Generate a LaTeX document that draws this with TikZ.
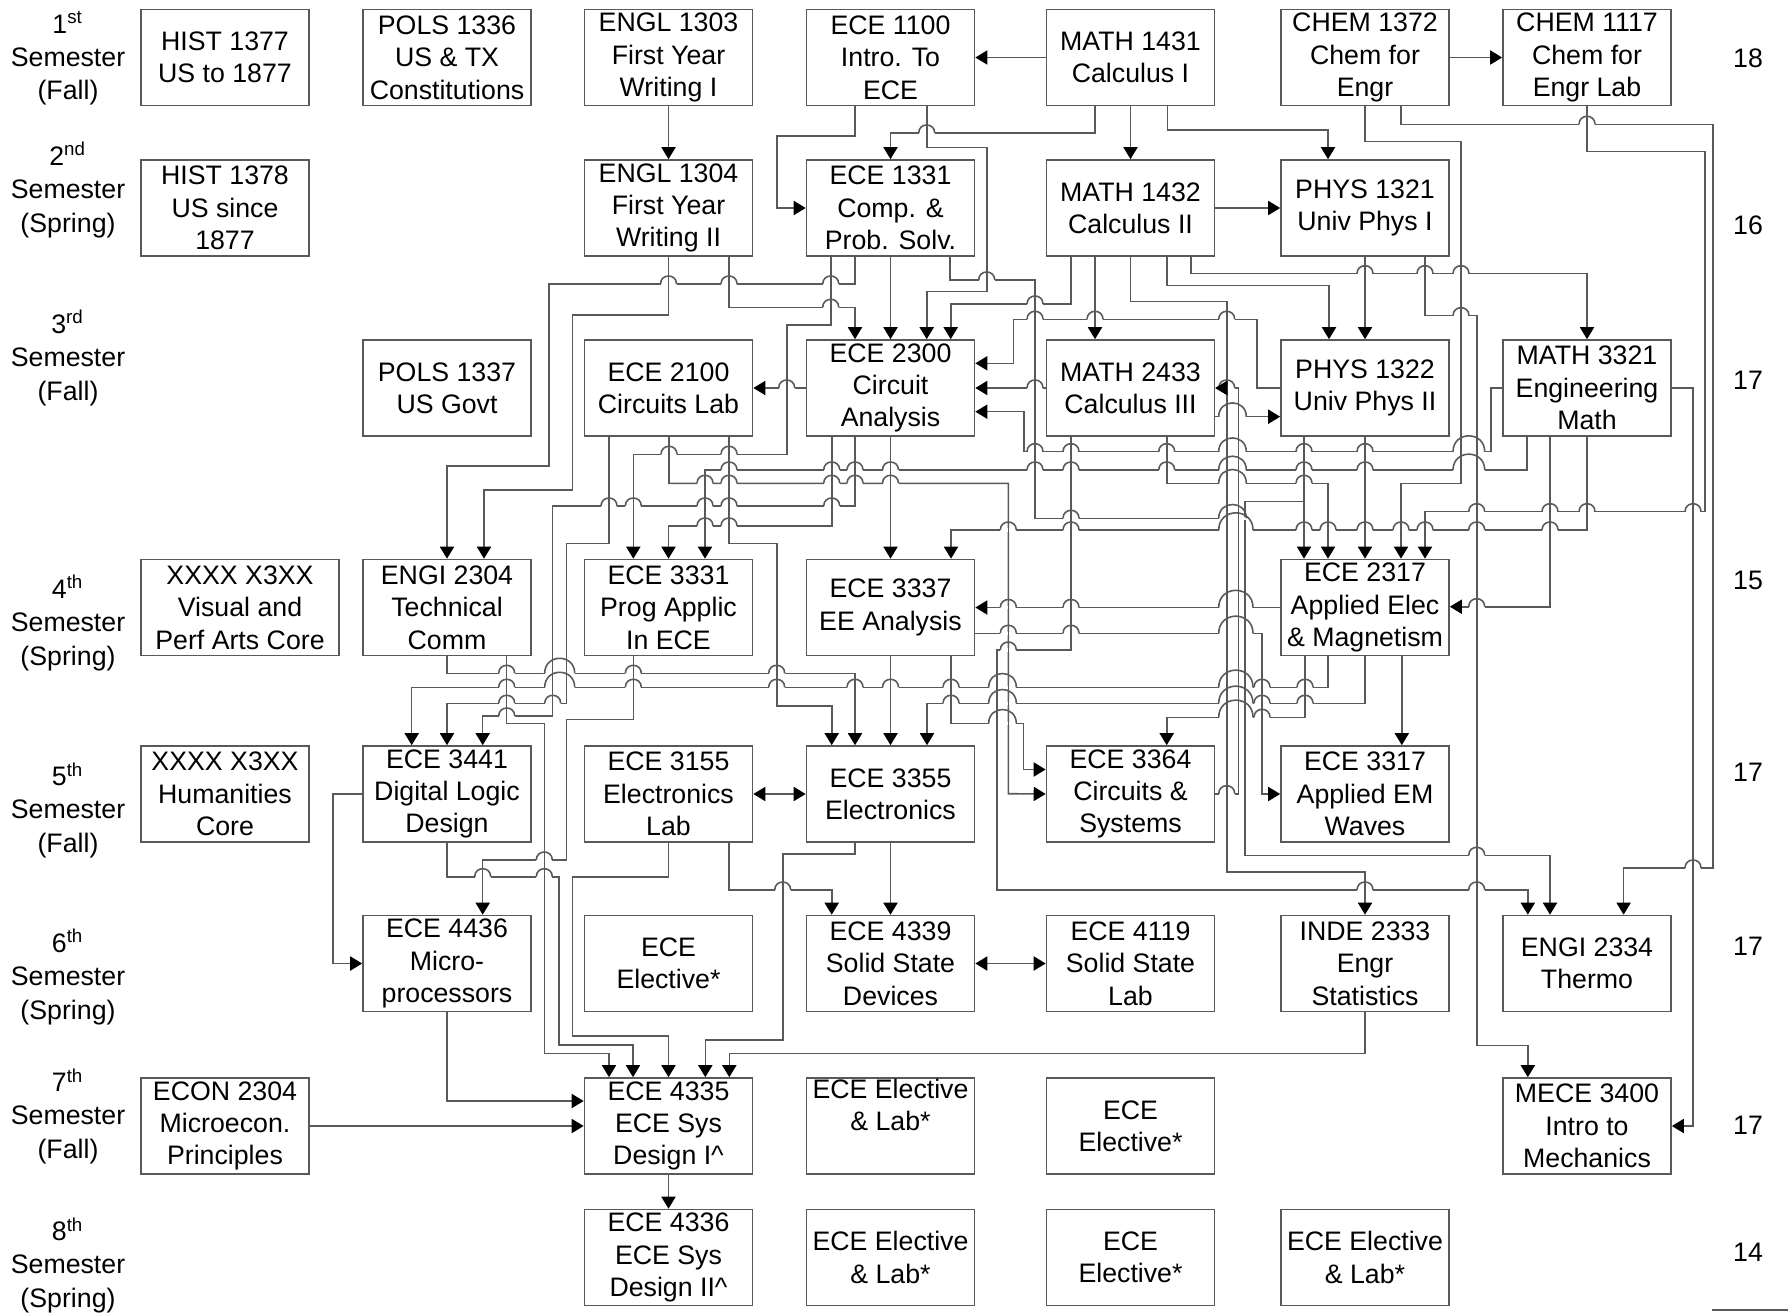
\documentclass[tikz,border=0pt]{standalone}
\usepackage{fontspec}
\setmainfont{Liberation Sans}
\usetikzlibrary{arrows.meta}

\tikzset{
  course/.style={draw=black!65, line width=0.45pt, minimum width=1.68cm, minimum height=0.96cm,
    align=center, inner sep=0pt, font=\fontsize{7.6}{9.2}\selectfont},
  sem/.style={align=center, font=\fontsize{7.6}{9.4}\selectfont},
  hrs/.style={font=\fontsize{7.6}{9.2}\selectfont},
  link/.style={draw=black!65, line width=0.45pt},
  arr/.style={link, -{Triangle[length=3.4pt,width=4pt,color=black]}},
  barr/.style={link, {Triangle[length=3.4pt,width=4pt,color=black]}-{Triangle[length=3.4pt,width=4pt,color=black]}},
}
% append an item to a comma list
\newcommand\addhop[2]{\ifx#1\empty\xdef#1{#2}\else\xdef#1{#1,#2}\fi}

\begin{document}
\begin{tikzpicture}[x=0.01cm,y=-0.01cm]
\useasboundingbox (0,0) rectangle (1788,1312);

% semester labels and hours
\foreach \y/\n/\s/\t in {58/1/st/Fall,190/2/nd/Spring,358/3/rd/Fall,623/4/th/Spring,
                         810/5/th/Fall,977/6/th/Spring,1116/7/th/Fall,1265/8/th/Spring}{
  \node[sem] at (68,\y) {\n\textsuperscript{\s}\\Semester\\(\t)};}
\foreach \y/\h in {58/18,225/16,380/17,580/15,772/17,946/17,1125/17,1252/14}{
  \node[hrs] at (1748,\y) {\h};}

% 1st semester
\node[course] (hist1377) at (225,57.5)    {HIST 1377\\US to 1877};
\node[course] (pols1336) at (447,57.5)    {POLS 1336\\US \& TX\\Constitutions};
\node[course] (engl1303) at (668.5,57.5)  {ENGL 1303\\First Year\\Writing I};
\node[course] (ece1100)  at (890.5,57.5)  {ECE 1100\\Intro. To\\ECE};
\node[course] (math1431) at (1130.5,57.5) {MATH 1431\\Calculus I};
\node[course] (chem1372) at (1365,57.5)   {CHEM 1372\\Chem for\\Engr};
\node[course] (chem1117) at (1587,57.5)   {CHEM 1117\\Chem for\\Engr Lab};
% 2nd semester
\node[course] (hist1378) at (225,208)     {HIST 1378\\US since\\1877};
\node[course] (engl1304) at (668.5,208)   {ENGL 1304\\First Year\\Writing II};
\node[course] (ece1331)  at (890.5,208)   {ECE 1331\\Comp. \&\\Prob. Solv.};
\node[course] (math1432) at (1130.5,208)  {MATH 1432\\Calculus II};
\node[course] (phys1321) at (1365,208)    {PHYS 1321\\Univ Phys I};
% 3rd semester
\node[course] (pols1337) at (447,388)     {POLS 1337\\US Govt};
\node[course] (ece2100)  at (668.5,388)   {ECE 2100\\Circuits Lab};
\node[course] (ece2300)  at (890.5,388)   {ECE 2300\\Circuit\\Analysis};
\node[course] (math2433) at (1130.5,388)  {MATH 2433\\Calculus III};
\node[course] (phys1322) at (1365,388)    {PHYS 1322\\Univ Phys II};
\node[course] (math3321) at (1587,388)    {MATH 3321\\Engineering\\Math};
% 4th semester
\node[course,minimum width=1.98cm] (core1) at (240,607.5) {XXXX X3XX\\Visual and\\Perf Arts Core};
\node[course] (engi2304) at (447,607.5)   {ENGI 2304\\Technical\\Comm};
\node[course] (ece3331)  at (668.5,607.5) {ECE 3331\\Prog Applic\\In ECE};
\node[course] (ece3337)  at (890.5,607.5) {ECE 3337\\EE Analysis};
\node[course] (ece2317)  at (1365,607.5)  {ECE 2317\\Applied Elec\\\& Magnetism};
% 5th semester
\node[course] (core2)    at (225,794)     {XXXX X3XX\\Humanities\\Core};
\node[course] (ece3441)  at (447,794)     {ECE 3441\\Digital Logic\\Design};
\node[course] (ece3155)  at (668.5,794)   {ECE 3155\\Electronics\\Lab};
\node[course] (ece3355)  at (890.5,794)   {ECE 3355\\Electronics};
\node[course] (ece3364)  at (1130.5,794)  {ECE 3364\\Circuits \&\\Systems};
\node[course] (ece3317)  at (1365,794)    {ECE 3317\\Applied EM\\Waves};
% 6th semester
\node[course] (ece4436)  at (447,963.5)   {ECE 4436\\Micro-\\processors};
\node[course] (elec6)    at (668.5,963.5) {ECE\\Elective*};
\node[course] (ece4339)  at (890.5,963.5) {ECE 4339\\Solid State\\Devices};
\node[course] (ece4119)  at (1130.5,963.5){ECE 4119\\Solid State\\Lab};
\node[course] (inde2333) at (1365,963.5)  {INDE 2333\\Engr\\Statistics};
\node[course] (engi2334) at (1587,963.5)  {ENGI 2334\\Thermo};
% 7th semester
\node[course] (econ2304) at (225,1126)    {ECON 2304\\Microecon.\\Principles};
\node[course] (ece4335)  at (668.5,1126)  {ECE 4335\\ECE Sys\\Design I\^{}};
\node[course] (elec7a)   at (890.5,1126)  {ECE Elective\\\& Lab*\\\strut};
\node[course] (elec7b)   at (1130.5,1126) {ECE\\Elective*};
\node[course] (mece3400) at (1587,1126)   {MECE 3400\\Intro to\\Mechanics};
% 8th semester
\node[course] (ece4336)  at (668.5,1257.5){ECE 4336\\ECE Sys\\Design II\^{}};
\node[course] (elec8a)   at (890.5,1257.5){ECE Elective\\\& Lab*};
\node[course] (elec8b)   at (1130.5,1257.5){ECE\\Elective*};
\node[course] (elec8c)   at (1365,1257.5) {ECE Elective\\\& Lab*};

% 1st -> 2nd
\draw[arr] (engl1303) -- (engl1304);
\draw[arr] (math1431) -- (ece1100);
\draw[arr] (chem1372) -- (chem1117);
\draw[arr] (math1431) -- (math1432);
\draw[arr] (math1432) -- (phys1321);
\draw[arr] (855,0 |- ece1100.south) -- (855,136) -| (776.7,208) -- (ece1331.west);
\draw[arr] (1095,0 |- math1431.south) -- (1095,133) -| (ece1331.north);
\draw[arr] (926.7,0 |- ece1100.south) -- (926.7,147.3) -| (986.7,291.7) -| (926.7,0 |- ece2300.north);
\draw[arr] (1167.4,0 |- math1431.south) -- (1167.4,130) -| (1328,0 |- phys1321.north);
\draw[arr] (chem1372.south) -- (1365,141.7) -| (1461,483.3) -| (1401,0 |- ece2317.north);
\draw[arr] (1401,0 |- chem1372.south) -- (1401,124.3) -| (1713,868) -| (1623.6,0 |- engi2334.north);
\draw[arr] (chem1117.south) -- (1587,151.7) -| (1705,511.7) -| (1425,0 |- ece2317.north);

% 2nd -> 3rd
\draw[arr] (engl1304.south) -- (668.5,315) -| (572.7,490) -| (484,0 |- engi2304.north);
\draw[arr] (855,0 |- ece1331.south) -- (855,284) -| (549,466) -| (engi2304.north);
\draw[arr] (729,0 |- engl1304.south) -- (729,307.3) -| (855,0 |- ece2300.north);
\draw[arr] (830.7,0 |- ece1331.south) -- (830.7,325) -| (786.7,454.3) -| (633.3,0 |- ece3331.north);
\draw[arr] (ece1331) -- (ece2300);
\draw[arr] (1071,0 |- math1432.south) -- (1071,304) -| (950.7,0 |- ece2300.north);
\draw[arr] (phys1322.west) -- (1256.8,388) |- (1013.3,319.3) |- (ece2300.east |- 0,363.3);
\draw[arr] (math2433) -- (ece2300);
\draw[arr] (math3321.west) -- (1491,388) |- (1023.7,451.7) |- (ece2300.east |- 0,411.7);
\draw[arr] (ece2300) -- (ece2100);
\draw[arr] (1095,0 |- math1432.south) -- (1095,0 |- math2433.north);
\draw[arr] (1166.7,0 |- math1432.south) -- (1166.7,285.7) -| (1329,0 |- phys1322.north);
\draw[arr] (phys1321) -- (phys1322);
\draw[arr] (1190.7,0 |- math1432.south) -- (1190.7,273.7) -| (math3321.north);
\draw[arr] (1425,0 |- phys1321.south) -- (1425,315.7) -| (1476.7,1045.4) -| (1527.8,0 |- mece3400.north);
\draw[arr] (math1432.south) -- (1130.5,301.7) -| (1226.7,871.7) -| (inde2333.north);
\draw[arr] (math2433.east |- 0,416.7) -- (phys1322.west |- 0,416.7);
\draw[link] (950,0 |- ece1331.south) -- (950,280) -| (1035,518.3) -- (1245,518.3);
\draw[arr] (ece3364.east) -| (1238.3,388) -- (math2433.east);

% 3rd -> 4th
\draw[arr] (669,0 |- ece2100.south) -- (669,483.3) -| (1008.3,793.7) -- (ece3364.west);
\draw[arr] (729,0 |- ece2100.south) -- (729,543.3) -| (776.7,706) -| (831.7,0 |- ece3355.north);
\draw[arr] (609,0 |- ece2100.south) -- (609,543.3) -| (566.7,703.3) -| (ece3441.north);
\draw[arr] (855,0 |- ece2300.south) -- (855,506) -| (552.7,716) -| (482.7,0 |- ece3441.north);
\draw[arr] (831.7,0 |- ece2300.south) -- (831.7,526) -| (ece3331.north);
\draw[arr] (ece2300) -- (ece3337);
\draw[arr] (1526.7,0 |- math3321.south) -- (1526.7,470) -| (705,0 |- ece3331.north);
\draw[arr] (math3321.south) -- (1587,530) -| (951,0 |- ece3337.north);
\draw[arr] (1550,0 |- math3321.south) -- (1550,606.7) -- (ece2317.east |- 0,606.7);
\draw[arr] (1166.7,0 |- math2433.south) -- (1166.7,483.3) -| (1328,0 |- ece2317.north);
\draw[arr] (1304,0 |- phys1322.south) -- (1304,0 |- ece2317.north);
\draw[arr] (1304,501.7) -| (1245,855.3) -| (1550,0 |- engi2334.north);
\draw[arr] (phys1322) -- (ece2317);
\draw[arr] (1071,0 |- math2433.south) -- (1071,650) -| (996.7,890) -| (1527.8,0 |- engi2334.north);
\draw[arr] (math3321.east) -- (1693,388) |- (mece3400.east);

% 4th -> 5th
\draw[arr] (engi2304.south) -- (447,673.3) -| (855,0 |- ece3355.north);
\draw[arr] (1328,0 |- ece2317.south) -- (1328,687.3) -| (411.7,0 |- ece3441.north);
\draw[arr] (ece3337) -- (ece3355);
\draw[arr] (ece2317.south) -- (1365,703.3) -| (927,0 |- ece3355.north);
\draw[arr] (1305,0 |- ece2317.south) -- (1305,717.3) -| (1166.7,0 |- ece3364.north);
\draw[arr] (1401.8,0 |- ece2317.south) -- (1401.8,0 |- ece3317.north);
\draw[arr] (ece3337.east |- 0,633.3) -- (1262,633.3) |- (ece3317.west);
\draw[arr] (ece2317) -- (ece3337);
\draw[arr] (951,0 |- ece3337.south) -- (951,723.3) -| (1023.3,769.5) -- (ece3364.west |- 0,769.5);
\draw[arr] (633.3,0 |- ece3331.south) -- (633.3,719.3) -| (566.7,860) -| (482.7,0 |- ece4436.north);
\draw[arr] (506.7,0 |- engi2304.south) -- (506.7,723.3) -| (544.3,1053.3) -| (609,0 |- ece4335.north);
\draw[arr] (ece3441.west) -| (333,963.5) -- (ece4436.west);

% 5th -> 8th
\draw[barr] (ece3155) -- (ece3355);
\draw[arr] (ece3355) -- (ece4339);
\draw[arr] (729,0 |- ece3155.south) -- (729,890) -| (831.7,0 |- ece4339.north);
\draw[barr] (ece4339) -- (ece4119);
\draw[arr] (ece3441.south) -- (447,876.7) -| (559,1045) -| (633,0 |- ece4335.north);
\draw[arr] (ece3155.south) -- (668.5,876.7) -| (572.7,1035.7) -| (ece4335.north);
\draw[arr] (855,0 |- ece3355.south) -- (855,854) -| (782.7,1040) -| (705.3,0 |- ece4335.north);
\draw[arr] (inde2333.south) -- (1365,1053.3) -| (729.3,0 |- ece4335.north);
\draw[arr] (ece4436.south) -- (447,1101) -- (ece4335.west |- 0,1101);
\draw[arr] (econ2304) -- (ece4335);
\draw[arr] (ece4335) -- (ece4336);

\draw[link] (1712,1310) -- (1788,1310);

% line hops: horizontal runs (y/x1/x2) jump over vertical runs (x/y1/y2, sorted by x)
\def\hsegs{133/890.5/1095, 136/776.7/855, 147.3/926.7/986.7, 291.7/926.7/986.7,
  130/1167.4/1328, 141.7/1365/1461, 483.3/1401/1461, 124.3/1401/1713, 868/1623.6/1713,
  151.7/1587/1705, 511.7/1425/1705, 315/572.7/668.5, 490/484/572.7, 284/549/855,
  466/447/549, 307.3/729/855, 325/786.7/830.7, 454.3/633.3/786.7, 304/950.7/1071,
  319.3/1013.3/1256.8, 363.3/974.5/1013.3, 388/974.5/1046.5, 451.7/1023.7/1491,
  411.7/974.5/1023.7, 388/752.5/806.5, 285.7/1166.7/1329, 273.7/1190.7/1587,
  315.7/1425/1476.7, 301.7/1130.5/1226.7, 871.7/1226.7/1365, 416.7/1214.5/1281,
  280/950/1035, 518.3/1035/1245, 793.7/1214.5/1238.3, 388/1214.5/1238.3,
  483.3/669/1008.3, 543.3/729/776.7, 706/776.7/831.7, 543.3/566.7/609,
  703.3/447/566.7, 506/552.7/855, 716/482.7/552.7, 526/669/831.7, 470/705/1526.7,
  530/951/1587, 606.7/1449/1550, 483.3/1166.7/1328, 501.7/1245/1304,
  855.3/1245/1550, 650/996.7/1071, 890/996.7/1527.8, 673.3/447/855,
  687.3/411.7/1328, 703.3/927/1365, 717.3/1166.7/1305, 633.3/974.5/1262,
  607.5/974.5/1281, 723.3/951/1023.3, 719.3/566.7/633.3, 860/482.7/566.7,
  723.3/506.7/544.3, 1053.3/544.3/609, 794/752.5/806.5, 890/729/831.7,
  876.7/447/559, 1045/559/633, 876.7/572.7/668.5, 1035.7/572.7/668.5,
  854/782.7/855, 1040/705.3/782.7, 1053.3/729.3/1365, 1101/447/584.5, 1126/309/584.5}
\def\vsegs{333/794/963.5, 411.7/687.3/746, 447/466/559.5, 447/655.5/673.3, 447/703.3/746,
  447/842/876.7, 447/1011.5/1101, 482.7/716/746, 482.7/860/915.5, 484/490/559.5,
  506.7/655.5/723.3, 544.3/723.3/1053.3, 549/284/466, 552.7/506/716, 559/876.7/1045,
  566.7/543.3/703.3, 566.7/719.3/860, 572.7/315/490, 572.7/876.7/1035.7, 609/436/543.3,
  609/1053.3/1078, 633/1045/1078, 633.3/454.3/559.5, 633.3/655.5/719.3, 668.5/256/315,
  668.5/842/876.7, 668.5/1035.7/1078, 669/436/483.3, 669/526/559.5, 705/470/559.5,
  705.3/1040/1078, 729/256/307.3, 729/436/543.3, 729/842/890, 729.3/1053.3/1078,
  776.7/136/208, 776.7/543.3/706, 782.7/854/1040, 786.7/325/454.3, 830.7/256/325,
  831.7/436/526, 831.7/706/746, 831.7/890/915.5, 855/105.5/136, 855/256/284,
  855/307.3/340, 855/436/506, 855/673.3/746, 855/842/854, 890.5/133/160, 890.5/256/340,
  890.5/436/559.5, 890.5/655.5/746, 890.5/842/915.5, 926.7/105.5/147.3, 926.7/291.7/340,
  927/703.3/746, 950/256/280, 950.7/304/340, 951/530/559.5, 951/655.5/723.3,
  986.7/147.3/291.7, 996.7/650/890, 1008.3/483.3/793.7, 1013.3/319.3/363.3,
  1023.3/723.3/769.5, 1023.7/411.7/451.7, 1035/280/518.3, 1071/256/304, 1071/436/650,
  1095/105.5/133, 1095/256/340, 1130.5/256/301.7, 1166.7/256/285.7, 1166.7/436/483.3,
  1166.7/717.3/746, 1167.4/105.5/130, 1190.7/256/273.7, 1226.7/301.7/871.7,
  1238.3/388/793.7, 1245/501.7/855.3, 1256.8/319.3/388, 1262/633.3/793.7,
  1304/436/559.5, 1305/655.5/717.3, 1328/130/160, 1328/483.3/559.5, 1328/655.5/687.3,
  1329/285.7/340, 1365/105.5/141.7, 1365/256/340, 1365/436/559.5, 1365/655.5/703.3,
  1365/871.7/915.5, 1365/1011.5/1053.3, 1401/105.5/124.3, 1401/483.3/559.5,
  1401.8/655.5/746, 1425/256/315.7, 1425/511.7/559.5, 1461/141.7/483.3,
  1476.7/315.7/1045.4, 1491/388/451.7, 1526.7/436/470, 1527.8/890/915.5,
  1527.8/1045.4/1078, 1550/436/606.7, 1550/855.3/915.5, 1587/105.5/151.7,
  1587/273.7/340, 1587/436/530, 1623.6/868/915.5, 1693/388/1126, 1705/151.7/511.7,
  1713/124.3/868}
\gdef\hopstubs{}
\gdef\hopspans{}
\foreach \hy/\ha/\hb in \hsegs {
  \gdef\hopA{}
  \foreach \vx/\va/\vb in \vsegs {
    \pgfmathtruncatemacro\cross{and(and(\vx>\ha+3,\vx<\hb-3),and(\hy>\va+3,\hy<\vb-3))}
    \ifnum\cross=1
      \addhop\hopstubs{\vx/\hy}
      \ifx\hopA\empty \xdef\hopA{\vx}\xdef\hopB{\vx}
      \else
        \pgfmathtruncatemacro\near{\vx-\hopB<16.5}
        \ifnum\near=1 \xdef\hopB{\vx}
        \else \addhop\hopspans{\hopA/\hopB/\hy}\xdef\hopA{\vx}\xdef\hopB{\vx}\fi
      \fi
    \fi
  }
  \ifx\hopA\empty\else \addhop\hopspans{\hopA/\hopB/\hy}\fi
}
\foreach \a/\b/\y in \hopspans {\fill[white] (\a-8,\y-1.6) rectangle (\b+8,\y+1.6);}
\foreach \x/\y in \hopstubs {\draw[link] (\x,\y-1.8) -- (\x,\y+1.8);}
\foreach \a/\b/\y in \hopspans {
  \pgfmathsetmacro\r{1.333*((\b-\a)/2+8)}
  \draw[link] (\a-8,\y) .. controls (\a-8,\y-\r) and (\b+8,\y-\r) .. (\b+8,\y);}
\draw[arr] (1220,388) -- (math2433.east);
\end{tikzpicture}
\end{document}
